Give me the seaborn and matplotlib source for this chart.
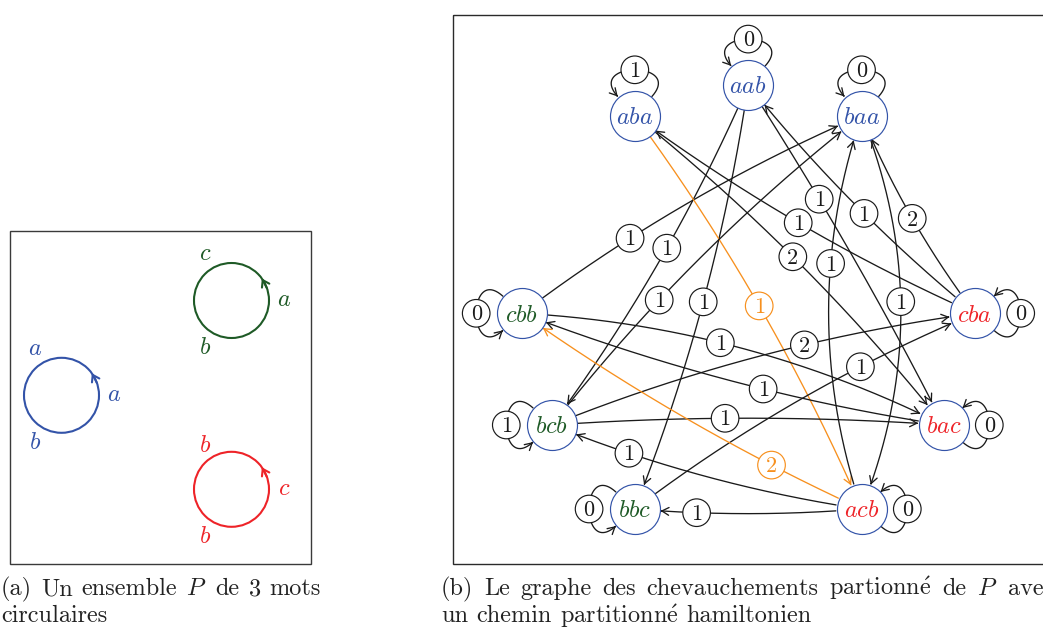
import numpy as np
import matplotlib
matplotlib.use("Agg")
import matplotlib.pyplot as plt
from matplotlib.patches import Circle, Rectangle, FancyArrowPatch
from matplotlib.path import Path
import seaborn as sns

# ---------------- data ----------------
node_names = ["aba", "aab", "baa", "cbb", "cba", "bcb", "bac", "bbc", "acb"]
node_group = ["blue", "blue", "blue", "green", "red", "green", "red", "green", "red"]
loop_weight = [1, 0, 0, 0, 0, 1, 0, 0, 0]

edge_src = ["cbb", "aab", "aab", "aab", "aba", "aba", "cba", "cba", "cba", "acb",
            "baa", "bcb", "cbb", "bac", "bcb", "bcb", "bbc", "acb", "acb", "acb"]
edge_dst = ["baa", "bcb", "bbc", "bac", "bac", "acb", "aab", "aba", "baa", "baa",
            "acb", "baa", "bac", "cbb", "cba", "bac", "cba", "cbb", "bcb", "bbc"]
edge_weight = [1, 1, 1, 1, 2, 1, 1, 1, 2, 1, 1, 1, 1, 1, 2, 1, 1, 2, 1, 1]
path_edges = [("aba", "acb"), ("acb", "cbb")]

circle_groups = ["blue", "green", "red"]
circle_letters = [["a", "a", "b"], ["a", "c", "b"], ["c", "b", "b"]]

caption_a_line1 = ["(a)", "Un", "ensemble", "$P$", "de", "3", "mots"]
caption_a_line2 = ["circulaires"]
caption_b_line1 = ["(b)", "Le", "graphe", "des", "chevauchements",
                   r"partionn$\acute{\mathrm{e}}$", "de", "$P$", "avec"]
caption_b_line2 = ["un", "chemin", r"partitionn$\acute{\mathrm{e}}$", "hamiltonien"]

# ---------------- layout / style ----------------
W, H = 1043, 628
node_x = [634.8, 748.2, 861.5, 521.9, 975.0, 552.0, 943.6, 634.8, 861.6]
node_y = [115.5, 84.8, 115.5, 313.3, 313.3, 425.0, 425.0, 509.0, 509.0]
loop_side = ["up", "up", "up", "left", "right", "left", "right", "left", "right"]
edge_pos = [.334, .464, .504, .343, .484, .500, .463, .504, .498, .624,
            .473, .375, .457, .421, .6045, .442, .679, .255, .7455, .7275]
edge_bend = [-23.4, -22.3, -25.2, -10.2, -24.2, -25.4, -16.9, -21.2, -14.4, -65.9,
             -78.6, -26.7, -45.1, -23.4, -27.2, -13.6, -24.8, -18.2, -18.7, -9.3]
circle_cx = [61.5, 231.5, 231.5]
circle_cy = [395.3, 300.5, 489.3]

COL = {"blue": "#3353a8", "green": "#1e5a26", "red": "#ee2328"}
ORANGE = "#f7901e"
INK = "#1a1a1a"
R_NODE = 25.0
R_LAB = 13.8
FS_BIG = 17.5
FS_LAB = 16.0
EM_BIG = FS_BIG * 100 / 72
EM_LAB = FS_LAB * 100 / 72
ARROW = "->,head_length=0.5,head_width=0.28"

sns.set_theme(style="white")
plt.rcParams["font.family"] = ["cmr10", "DejaVu Serif"]
plt.rcParams["mathtext.fontset"] = "cm"
plt.rcParams["axes.unicode_minus"] = False
plt.rcParams["axes.formatter.use_mathtext"] = True

fig = plt.figure(figsize=(W / 100, H / 100), dpi=100)
ax = fig.add_axes([0, 0, 1, 1])

pos = {n: np.array([x, y]) for n, x, y in zip(node_names, node_x, node_y)}


def qbez(p0, p1, p2, t):
    t = np.atleast_1d(t)[:, None]
    return (1 - t) ** 2 * p0 + 2 * t * (1 - t) * p1 + t ** 2 * p2


def cbez(p0, p1, p2, p3, t):
    t = np.atleast_1d(t)[:, None]
    return ((1 - t) ** 3 * p0 + 3 * (1 - t) ** 2 * t * p1
            + 3 * (1 - t) * t ** 2 * p2 + t ** 3 * p3)


def label(pt, w, color):
    ax.add_patch(Circle(pt, R_LAB, fc="white", ec=color, lw=0.85, zorder=5))
    ax.text(pt[0], pt[1] + 0.322 * EM_LAB, str(w), ha="center", va="baseline",
            fontsize=FS_LAB, color=color, zorder=6)


# ---------- panel (b) edges ----------
for s, d, w, tp, h in zip(edge_src, edge_dst, edge_weight, edge_pos, edge_bend):
    p0, p2 = pos[s], pos[d]
    v = p2 - p0
    L = np.hypot(*v)
    n = np.array([-v[1], v[0]]) / L
    p1 = (p0 + p2) / 2 + n * h
    pts = qbez(p0, p1, p2, np.linspace(0, 1, 600))
    keep = (np.hypot(*(pts - p0).T) >= R_NODE + 0.5) & (np.hypot(*(pts - p2).T) >= R_NODE + 0.5)
    pts = pts[keep]
    color = ORANGE if (s, d) in path_edges else INK
    ax.add_patch(FancyArrowPatch(path=Path(pts), arrowstyle=ARROW, mutation_scale=10,
                                 lw=0.95, color=color, zorder=2))
    label(qbez(p0, p1, p2, tp)[0], w, color)

# ---------- loops ----------
dirs = {"up": np.array([0.0, -1.0]), "left": np.array([-1.0, 0.0]), "right": np.array([1.0, 0.0])}


def rot(v, deg):
    a = np.radians(deg)
    return np.array([v[0] * np.cos(a) - v[1] * np.sin(a), v[0] * np.sin(a) + v[1] * np.cos(a)])


for name, side, w in zip(node_names, loop_side, loop_weight):
    c = pos[name]
    dv = dirs[side]
    uo, ui = rot(dv, 42), rot(dv, -42)
    P0 = c + (R_NODE + 0.5) * uo
    P3 = c + (R_NODE + 0.5) * ui
    P1 = P0 + 48 * uo
    P2 = P3 + 48 * ui
    pts = cbez(P0, P1, P2, P3, np.linspace(0, 1, 300))
    ax.add_patch(FancyArrowPatch(path=Path(pts), arrowstyle=ARROW, mutation_scale=10,
                                 lw=0.95, color=INK, zorder=2))
    label(cbez(P0, P1, P2, P3, 0.5)[0], w, INK)

# ---------- nodes (seaborn scatter) ----------
diam_pt = 2 * R_NODE * 72 / 100
sns.scatterplot(x=node_x, y=node_y, s=diam_pt ** 2, color="white", edgecolor=COL["blue"],
                linewidth=0.85, ax=ax, zorder=3, legend=False)
for name, g in zip(node_names, node_group):
    c = pos[name]
    ax.text(c[0], c[1] + 0.347 * EM_BIG, f"${name}$", ha="center", va="baseline",
            fontsize=FS_BIG, color=COL[g], zorder=4)

# ---------- panel (a) ----------
half_h = {"a": 0.2155, "b": 0.347, "c": 0.2155}
for cx, cy, g, letters in zip(circle_cx, circle_cy, circle_groups, circle_letters):
    col = COL[g]
    ax.add_patch(Circle((cx, cy), 37.5, fc="none", ec=col, lw=1.5, zorder=3))
    a0, a1 = np.radians(20), np.radians(36)
    ax.add_patch(FancyArrowPatch((cx + 37.5 * np.cos(a0), cy - 37.5 * np.sin(a0)),
                                 (cx + 37.5 * np.cos(a1), cy - 37.5 * np.sin(a1)),
                                 arrowstyle="->,head_length=0.45,head_width=0.3",
                                 mutation_scale=10, lw=1.5, color=col, zorder=3,
                                 shrinkA=0, shrinkB=0))
    for k, letter in enumerate(letters):
        ang = np.radians(120 * k)
        x = cx + 52.5 * np.cos(ang)
        y = cy - 52.5 * np.sin(ang)
        ax.text(x, y + half_h[letter] * EM_BIG, f"${letter}$", ha="center", va="baseline",
                fontsize=FS_BIG, color=col, zorder=4)

# frames
ax.add_patch(Rectangle((9.5, 231), 301, 332.5, fc="none", ec="#3a3a3a", lw=1.0, zorder=1))
ax.add_patch(Rectangle((453, 15), 640, 548.5, fc="none", ec="#2a2a2a", lw=1.0, zorder=1,
                       clip_on=False))

ax.set_xlim(0, W)
ax.set_ylim(H, 0)
ax.set_axis_off()

# ---------- captions ----------
fig.canvas.draw()
renderer = fig.canvas.get_renderer()
SPACE = 0.333 * EM_BIG


def words_line(words, x0, y, x1=None):
    texts = [ax.text(0, y, w, ha="left", va="baseline", fontsize=FS_BIG, color="#222222")
             for w in words]
    widths = [t.get_window_extent(renderer).width for t in texts]
    gap = SPACE if (x1 is None or len(words) < 2) else (x1 - x0 - sum(widths)) / (len(words) - 1)
    x = x0
    for t, wd in zip(texts, widths):
        t.set_x(x)
        x += wd + gap


words_line(caption_a_line1, 1, 595, 321)
words_line(caption_a_line2, 1, 622.5)
words_line(caption_b_line1, 441, 595, 1054)
words_line(caption_b_line2, 441, 622.5)

fig.savefig("out.png", dpi=100)
